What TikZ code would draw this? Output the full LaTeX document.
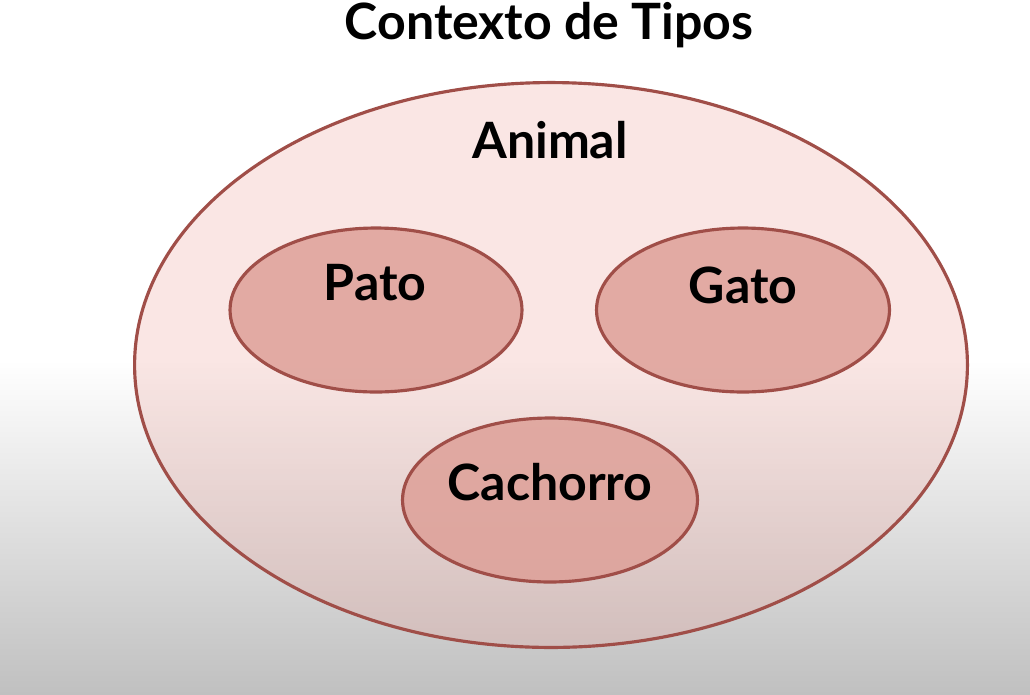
\documentclass[tikz,border=0pt]{standalone}
\usepackage{fontspec}
\setmainfont{Lato}
\usetikzlibrary{shapes.geometric}
\definecolor{rim}{RGB}{160,78,72}
\definecolor{outerfill}{RGB}{236,160,152}
\definecolor{innerfill}{RGB}{222,160,152}
\definecolor{bggray}{RGB}{192,192,192}
\tikzset{
  px/.style={x=0.02cm,y=-0.02cm},
  outerell/.style={ellipse, draw=rim, line width=1.8pt, fill=outerfill, fill opacity=0.26, draw opacity=1, inner sep=0pt},
  innerell/.style={ellipse, draw=rim, line width=1.8pt, fill=innerfill, fill opacity=0.85, draw opacity=1, inner sep=0pt},
  lbl/.style={font=\fontsize{28.5}{32}\selectfont\bfseries, text=black, inner sep=0pt},
}
\begin{document}
\begin{tikzpicture}[px]
\useasboundingbox (0,0) rectangle (1030,694);
\fill[white] (0,0) rectangle (1030,360);
\shade[top color=white, bottom color=bggray] (0,360) rectangle (1030,694);
\node[lbl] (title) at (549,25) {Contexto de Tipos};
\node[outerell, minimum width=16.66cm, minimum height=11.3cm] (animal) at (551,365) {};
\node[innerell, minimum width=5.84cm, minimum height=3.28cm] (pato) at (376,310) {};
\node[innerell, minimum width=5.86cm, minimum height=3.28cm] (gato) at (743,310) {};
\node[innerell, minimum width=5.9cm, minimum height=3.28cm] (cachorro) at (550,500) {};
\node[lbl] (tanimal) at (550,140) {Animal};
\node[lbl] (tpato) at (375,283) {Pato};
\node[lbl] (tgato) at (743,285) {Gato};
\node[lbl] (tcachorro) at (550,482) {Cachorro};
\end{tikzpicture}
\end{document}
